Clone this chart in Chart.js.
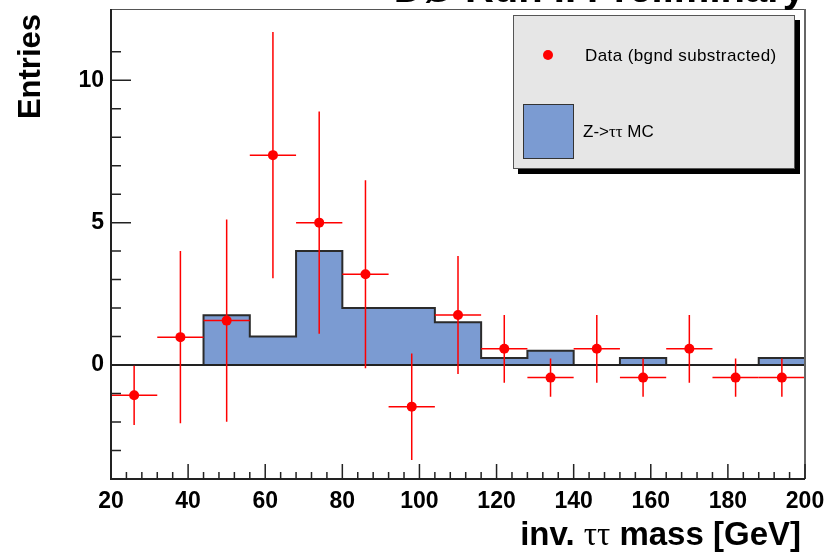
<!DOCTYPE html>
<html>
<head>
<meta charset="utf-8">
<script src="https://cdn.jsdelivr.net/npm/chart.js@4.4.1/dist/chart.umd.min.js"></script>
<style>
  html, body { margin: 0; padding: 0; background: #fff; }
</style>
</head>
<body>
<canvas id="myChart" width="829" height="554"></canvas>
<script>
// bins of the tau-tau mass histogram (GeV)
const binLow = [20, 32, 44, 56, 68, 80, 92, 104, 116, 128, 140, 152, 164, 176, 188];
const binWidth = 12;
const mcValues = [0, 0, 1.75, 1, 4, 2, 2, 1.5, 0.25, 0.5, 0, 0.25, 0, 0, 0.25];
const dataValues = [-1.06, 0.98, 1.56, 7.37, 5.0, 3.19, -1.46, 1.76, 0.57, -0.44, 0.57, -0.44, 0.57, -0.44, -0.44];
const dataErrors = [1.04, 3.02, 3.55, 4.32, 3.9, 3.3, 1.87, 2.07, 1.19, 0.67, 1.19, 0.67, 1.19, 0.67, 0.67];
const xLabels = [20, 40, 60, 80, 100, 120, 140, 160, 180, 200];
const yLabels = [0, 5, 10];

const binCenters = binLow.map(x => x + binWidth / 2);
const mcSteps = [{ x: binLow[0], y: 0 }].concat(binLow.map((x, i) => ({ x: x + binWidth, y: mcValues[i] })));
const dataPoints = binCenters.map((x, i) => ({ x: x, y: dataValues[i] }));

const SANS = '"Liberation Sans", Arial, sans-serif';
const SERIF = '"Liberation Serif", "Times New Roman", serif';

// draws a string made of pieces in different fonts
function richText(ctx, parts, x, y, align) {
    let total = 0;
    parts.forEach(p => { ctx.font = p.font; p.w = ctx.measureText(p.t).width; total += p.w; });
    let cx = align === 'right' ? x - total : x;
    ctx.textAlign = 'left';
    parts.forEach(p => { ctx.font = p.font; ctx.fillText(p.t, cx, y); cx += p.w; });
}

const rootStyle = {
    id: 'rootStyle',
    beforeDatasetDraw(chart, args) {
        if (args.index !== 1) return;
        const { ctx, chartArea: a } = chart;
        const xs = chart.scales.x, ys = chart.scales.y;
        ctx.save();
        // zero line
        ctx.strokeStyle = '#222';
        ctx.lineWidth = 2;
        ctx.beginPath();
        ctx.moveTo(a.left, ys.getPixelForValue(0));
        ctx.lineTo(a.right, ys.getPixelForValue(0));
        ctx.stroke();
        // error bars
        ctx.strokeStyle = '#ff0000';
        ctx.lineWidth = 1.5;
        binCenters.forEach((x, i) => {
            const px = xs.getPixelForValue(x);
            const py = ys.getPixelForValue(dataValues[i]);
            ctx.beginPath();
            ctx.moveTo(px, ys.getPixelForValue(dataValues[i] + dataErrors[i]));
            ctx.lineTo(px, ys.getPixelForValue(dataValues[i] - dataErrors[i]));
            ctx.moveTo(xs.getPixelForValue(x - binWidth / 2), py);
            ctx.lineTo(xs.getPixelForValue(x + binWidth / 2), py);
            ctx.stroke();
        });
        ctx.restore();
    },
    afterDraw(chart) {
        const { ctx, chartArea: a } = chart;
        const xs = chart.scales.x, ys = chart.scales.y;
        ctx.save();

        // frame
        ctx.strokeStyle = '#555';
        ctx.lineWidth = 1;
        ctx.beginPath();
        ctx.moveTo(a.left, a.top + 0.5);
        ctx.lineTo(a.right, a.top + 0.5);
        ctx.stroke();
        ctx.strokeStyle = '#666';
        ctx.lineWidth = 2;
        ctx.beginPath();
        ctx.moveTo(a.right, a.top);
        ctx.lineTo(a.right, a.bottom);
        ctx.stroke();

        // axes with inner ticks
        ctx.strokeStyle = '#222';
        ctx.lineWidth = 2;
        ctx.beginPath();
        ctx.moveTo(a.left, a.top);
        ctx.lineTo(a.left, a.bottom);
        ctx.lineTo(a.right, a.bottom);
        ctx.stroke();
        ctx.lineWidth = 1.5;
        ctx.beginPath();
        ys.ticks.forEach(t => {
            if (!Number.isInteger(t.value)) return;
            const py = ys.getPixelForValue(t.value);
            ctx.moveTo(a.left, py);
            ctx.lineTo(a.left + (yLabels.includes(t.value) ? 20 : 10), py);
        });
        xs.ticks.forEach(t => {
            const px = xs.getPixelForValue(t.value);
            ctx.moveTo(px, a.bottom);
            ctx.lineTo(px, a.bottom - (xLabels.includes(t.value) ? 15 : 7));
        });
        ctx.stroke();

        // axis titles
        ctx.fillStyle = '#000';
        ctx.textBaseline = 'alphabetic';
        richText(ctx, [
            { t: 'inv. ', font: 'bold 33px ' + SANS },
            { t: 'ττ', font: '33px ' + SERIF },
            { t: ' mass [GeV]', font: 'bold 33px ' + SANS }
        ], a.right - 4, 545, 'right');
        ctx.save();
        ctx.translate(40, 14);
        ctx.rotate(-Math.PI / 2);
        ctx.font = 'bold 31px ' + SANS;
        ctx.textAlign = 'right';
        ctx.fillText('Entries', 0, 0);
        ctx.restore();

        // header, mostly cut off by the top edge
        ctx.font = 'bold 40px ' + SANS;
        ctx.textAlign = 'right';
        ctx.fillText('DØ Run II Preliminary', a.right, 2);

        // legend
        const lx = 513, ly = 15, lw = 282, lh = 154;
        ctx.fillStyle = '#000';
        ctx.fillRect(lx + 5, ly + 5, lw, lh);
        ctx.fillStyle = '#e6e6e6';
        ctx.fillRect(lx, ly, lw, lh);
        ctx.strokeStyle = '#555';
        ctx.lineWidth = 1;
        ctx.strokeRect(lx + 0.5, ly + 0.5, lw - 1, lh - 1);
        ctx.fillStyle = '#ff0000';
        ctx.beginPath();
        ctx.arc(548, 55, 5, 0, Math.PI * 2);
        ctx.fill();
        ctx.fillStyle = '#7b9bd2';
        ctx.fillRect(523, 104, 50, 54);
        ctx.strokeStyle = '#333';
        ctx.strokeRect(523.5, 104.5, 50, 54);
        ctx.fillStyle = '#000';
        ctx.font = '17px ' + SANS;
        ctx.textAlign = 'left';
        ctx.letterSpacing = '0.4px';
        ctx.fillText('Data (bgnd substracted)', 585, 61);
        ctx.letterSpacing = '0px';
        richText(ctx, [
            { t: 'Z->', font: '17px ' + SANS },
            { t: 'ττ', font: '17px ' + SERIF },
            { t: ' MC', font: '17px ' + SANS }
        ], 583, 137, 'left');

        ctx.restore();
    }
};

const ctx = document.getElementById('myChart').getContext('2d');
const myChart = new Chart(ctx, {
    type: 'scatter',
    data: {
        datasets: [{
            type: 'line',
            label: 'Z->ττ MC',
            data: mcSteps,
            stepped: 'after',
            fill: 'origin',
            backgroundColor: '#7b9bd2',
            borderColor: '#2b2b2b',
            borderWidth: 2,
            pointRadius: 0,
            order: 1
        }, {
            label: 'Data (bgnd substracted)',
            data: dataPoints,
            backgroundColor: '#ff0000',
            borderWidth: 0,
            pointRadius: 5,
            order: 0
        }]
    },
    options: {
        responsive: false,
        animation: false,
        layout: { padding: { top: 9, right: 24, left: 0, bottom: 0 } },
        plugins: { legend: { display: false }, tooltip: { enabled: false } },
        scales: {
            x: {
                type: 'linear',
                min: 20,
                max: 200,
                border: { display: false },
                grid: { display: false, drawTicks: false },
                ticks: {
                    stepSize: 4,
                    autoSkip: false,
                    maxRotation: 0,
                    padding: 9,
                    color: '#000',
                    font: { family: SANS, size: 23, weight: 'bold' },
                    callback: v => xLabels.includes(v) ? String(v) : ''
                },
                afterFit: s => { s.height = 75; s.paddingLeft = 0; s.paddingRight = 0; }
            },
            y: {
                min: -4,
                max: 12.5,
                border: { display: false },
                grid: { display: false, drawTicks: false },
                ticks: {
                    stepSize: 1,
                    autoSkip: false,
                    padding: 7,
                    color: '#000',
                    font: { family: SANS, size: 23, weight: 'bold' },
                    callback: v => yLabels.includes(v) ? String(v) : ''
                },
                afterFit: s => { s.width = 111; s.paddingTop = 0; s.paddingBottom = 0; }
            }
        }
    },
    plugins: [rootStyle]
});
</script>
</body>
</html>
